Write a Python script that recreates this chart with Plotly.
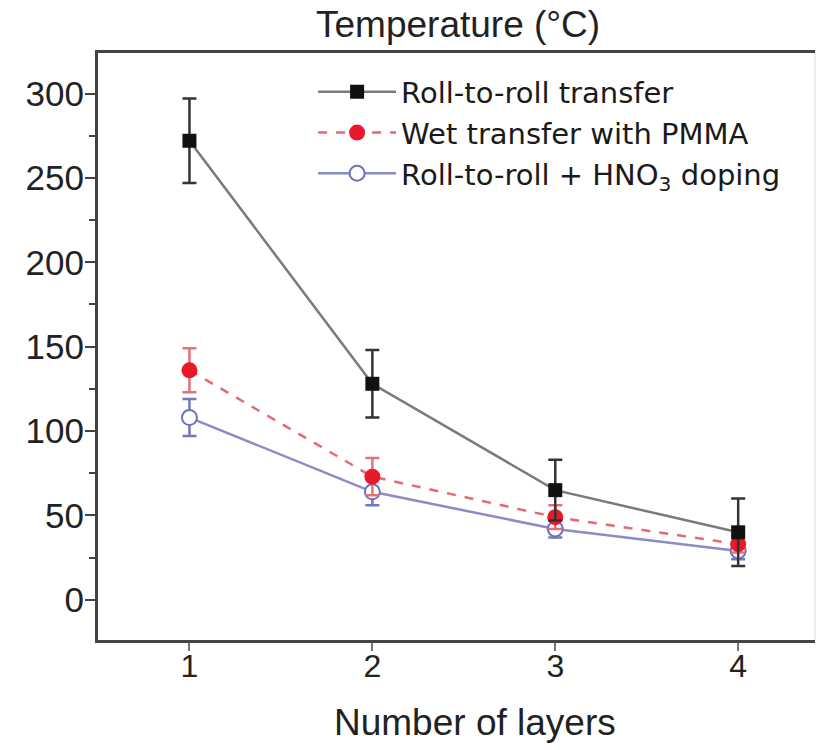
import plotly.graph_objects as go

layers = [1, 2, 3, 4]

r2r_temp = [272, 128, 65, 40]
r2r_err = [25, 20, 18, 20]

wet_temp = [136, 73, 49, 33]
wet_err = [13, 11, 7, 5]

hno3_temp = [108, 64, 42, 29]
hno3_err = [11, 8, 5, 5]

names = ["Roll-to-roll transfer", "Wet transfer with PMMA", "Roll-to-roll + HNO<sub>3</sub> doping"]

y_major = [0, 50, 100, 150, 200, 250, 300]
y_minor = [25, 75, 125, 175, 225, 275]

FONT = "Liberation Sans, Arial, sans-serif"

fig = go.Figure()

fig.add_trace(go.Scatter(
    x=layers, y=hno3_temp, name=names[2], mode="lines+markers",
    line=dict(color="#8a8cc8", width=2.5),
    marker=dict(symbol="circle", size=15, color="white", line=dict(color="#6f72bb", width=2)),
    error_y=dict(type="data", array=hno3_err, visible=True, color="#7477b8", thickness=2.5, width=7),
))
fig.add_trace(go.Scatter(
    x=layers, y=wet_temp, name=names[1], mode="lines+markers",
    line=dict(color="#e46a72", width=2.5, dash="dash"),
    marker=dict(symbol="circle", size=16, color="#e8192a"),
    error_y=dict(type="data", array=wet_err, visible=True, color="#e8707a", thickness=2.5, width=7),
))
fig.add_trace(go.Scatter(
    x=layers, y=r2r_temp, name=names[0], mode="lines+markers",
    line=dict(color="#7a7a7a", width=2.5),
    marker=dict(symbol="square", size=14, color="#111111"),
    error_y=dict(type="data", array=r2r_err, visible=True, color="#333333", thickness=2.5, width=7),
))

fig.update_layout(
    width=818, height=750,
    margin=dict(l=98, r=3, t=53, b=110),
    plot_bgcolor="white", paper_bgcolor="white",
    showlegend=True,
    legend=dict(
        x=0.30, y=0.977, xanchor="left", yanchor="top",
        traceorder="reversed",
        font=dict(family="DejaVu Sans, sans-serif", size=29, color="#1a1a1a"),
        bgcolor="rgba(255,255,255,0)",
        itemwidth=78,
        tracegroupgap=0,
    ),
    font=dict(family=FONT, color="#222222"),
)

fig.update_xaxes(
    range=[0.5, 4.42],
    tickvals=layers, ticktext=[str(v) for v in layers],
    ticks="outside", ticklen=8, tickwidth=2, tickcolor="#777777",
    ticklabelstandoff=-12,
    tickfont=dict(family=FONT, size=32, color="#222222"),
    showline=True, linecolor="#444444", linewidth=3, mirror=True,
    showgrid=False, zeroline=False,
)
fig.update_yaxes(
    range=[-23.8, 324],
    tickvals=y_major,
    ticks="outside", ticklen=10, tickwidth=2, tickcolor="#444444",
    minor=dict(tickvals=y_minor, ticks="outside", ticklen=6, tickwidth=2, tickcolor="#444444"),
    ticklabelstandoff=-6,
    tickfont=dict(family=FONT, size=35, color="#222222"),
    showline=True, linecolor="#444444", linewidth=3,
    showgrid=False, zeroline=False,
)

fig.add_shape(type="line", xref="paper", yref="paper", x0=1, x1=1, y0=0, y1=1,
              line=dict(color="#dddddd", width=1))

fig.add_annotation(
    text="Temperature (°C)", xref="paper", yref="paper",
    x=0.502, y=1.0, yshift=6, xanchor="center", yanchor="bottom", showarrow=False,
    font=dict(family=FONT, size=37, color="#222222"),
)
fig.add_annotation(
    text="Number of layers", xref="paper", yref="paper",
    x=0.526, y=0.0, yshift=-82, xanchor="center", yanchor="middle", showarrow=False,
    font=dict(family=FONT, size=37, color="#222222"),
)

fig.write_html("out.html")
